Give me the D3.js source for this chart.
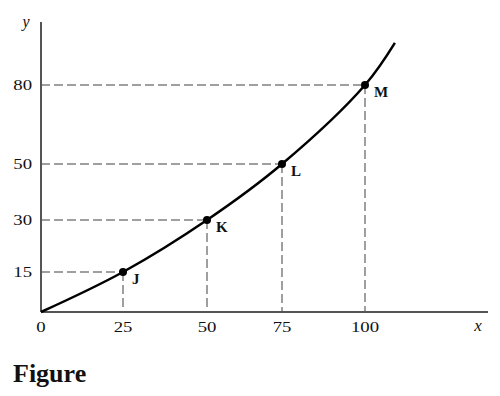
<!DOCTYPE html>
<html>
<head>
<meta charset="utf-8">
<script src="https://cdn.jsdelivr.net/npm/d3@7"></script>
<style>
  body { margin: 0; background: #fff; }
  svg { display: block; }
  text { font-family: "Liberation Serif", "DejaVu Serif", serif; fill: #111; }
</style>
</head>
<body>
<svg id="chart" width="500" height="396"></svg>
<script>
var width = 500;
var height = 396;

// labelled points on the curve
var pointNames = ["J", "K", "L", "M"];
var pointX = [25, 50, 75, 100];
var pointY = [15, 30, 50, 80];

// curve samples (origin, the points, and where the line leaves the frame)
var curveX = [0, 25, 50, 75, 100, 109];
var curveY = [0, 15, 30, 50, 80, 96];

var xTicks = [0, 25, 50, 75, 100];
var yTicks = [15, 30, 50, 80];

var svg = d3.select("#chart");

// the printed figure is not evenly spaced, so map through its tick positions
var x = d3.scaleLinear().domain([0, 25, 50, 75, 100]).range([41, 123, 207, 282, 365]);
var y = d3.scaleLinear().domain([0, 15, 30, 50, 80]).range([312, 272, 220, 164, 85]);

var dashColor = "#808080";

// guide lines
var pts = pointNames.map((n, i) => ({ name: n, x: pointX[i], y: pointY[i] }));

svg.selectAll(".hguide")
  .data(pts)
  .enter()
  .append("line")
  .attr("x1", x(0))
  .attr("x2", d => x(d.x))
  .attr("y1", d => y(d.y))
  .attr("y2", d => y(d.y))
  .attr("stroke", dashColor)
  .attr("stroke-width", 1.5)
  .attr("stroke-dasharray", "9,4");

svg.selectAll(".vguide")
  .data(pts)
  .enter()
  .append("line")
  .attr("x1", d => x(d.x))
  .attr("x2", d => x(d.x))
  .attr("y1", d => y(d.y))
  .attr("y2", y(0))
  .attr("stroke", dashColor)
  .attr("stroke-width", 1.5)
  .attr("stroke-dasharray", "9,4");

// axes
svg.append("line")
  .attr("x1", x(0)).attr("x2", 488)
  .attr("y1", y(0)).attr("y2", y(0))
  .attr("stroke", "#555").attr("stroke-width", 2);

svg.append("line")
  .attr("x1", x(0)).attr("x2", x(0))
  .attr("y1", y(0)).attr("y2", 22)
  .attr("stroke", "#555").attr("stroke-width", 2);

// scanned tick numbers are a bit wide, so stretch them horizontally
svg.selectAll(".xtick")
  .data(xTicks)
  .enter()
  .append("text")
  .attr("transform", d => `translate(${x(d)},332) scale(1.25,1)`)
  .attr("text-anchor", "middle")
  .style("font-size", "15px")
  .text(d => d);

svg.selectAll(".ytick")
  .data(yTicks)
  .enter()
  .append("text")
  .attr("transform", d => `translate(32,${y(d) + 5}) scale(1.25,1)`)
  .attr("text-anchor", "end")
  .style("font-size", "15px")
  .text(d => d);

svg.append("text")
  .attr("x", 478).attr("y", 331)
  .attr("text-anchor", "middle")
  .style("font-size", "17px")
  .style("font-style", "italic")
  .text("x");

svg.append("text")
  .attr("x", 26).attr("y", 27)
  .attr("text-anchor", "middle")
  .style("font-size", "16px")
  .style("font-style", "italic")
  .text("y");

// curve
var line = d3.line()
  .x(d => x(d[0]))
  .y(d => y(d[1]))
  .curve(d3.curveCatmullRom);

svg.append("path")
  .datum(curveX.map((v, i) => [v, curveY[i]]))
  .attr("fill", "none")
  .attr("stroke", "#000")
  .attr("stroke-width", 2.5)
  .attr("d", line);

svg.selectAll(".dot")
  .data(pts)
  .enter()
  .append("circle")
  .attr("cx", d => x(d.x))
  .attr("cy", d => y(d.y))
  .attr("r", 4)
  .attr("fill", "#000");

svg.selectAll(".plabel")
  .data(pts)
  .enter()
  .append("text")
  .attr("x", d => x(d.x) + 9)
  .attr("y", d => y(d.y) + 12)
  .style("font-size", "15px")
  .style("font-weight", "bold")
  .text(d => d.name);

svg.append("text")
  .attr("x", 13).attr("y", 382)
  .style("font-size", "26px")
  .style("font-weight", "bold")
  .text("Figure");
</script>
</body>
</html>
